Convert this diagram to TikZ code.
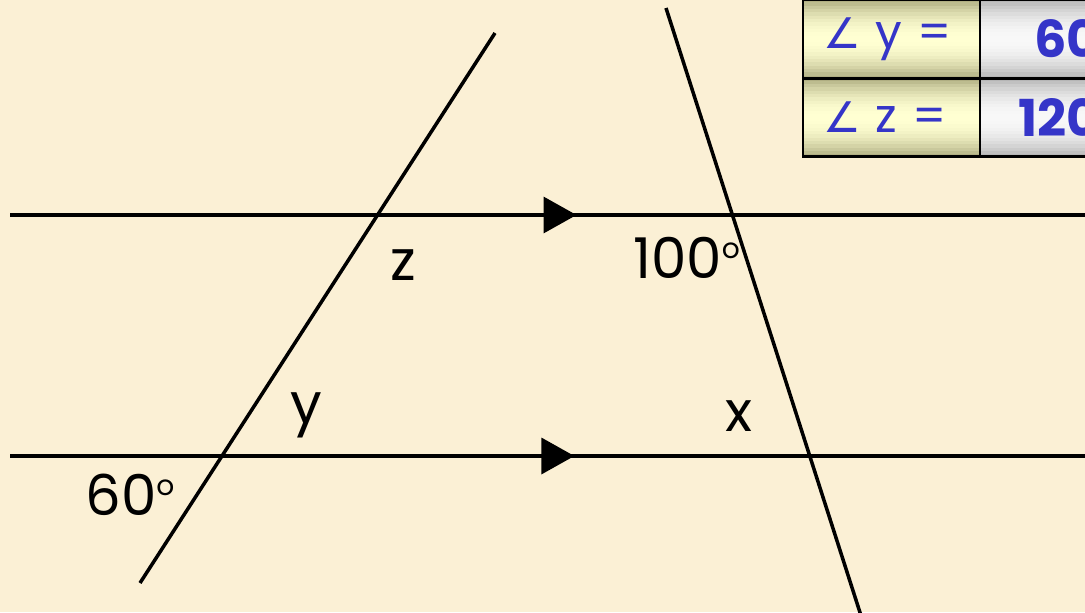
\documentclass[tikz,border=0pt]{standalone}
\usepackage{fontspec}
\setmainfont{Poppins}
\newfontfamily\symfont{DejaVu Sans}
\usepackage{xcolor}
\usetikzlibrary{arrows.meta, decorations.markings, calc, backgrounds}
\definecolor{paper}{HTML}{FBF0D5}
\definecolor{inkblue}{HTML}{3535C8}
\definecolor{olivedark}{HTML}{A9A77B}
\definecolor{olivelight}{HTML}{FFFFD2}
\definecolor{greydark}{HTML}{B0B0B0}
\definecolor{greylight}{HTML}{F8F8F8}
\newcommand{\degsup}{\raisebox{11pt}{\fontsize{16}{16}\selectfont o}}
\newcommand{\anglesym}{{\symfont\fontsize{24}{24}\selectfont∠}}

\begin{document}
\begin{tikzpicture}[
  x=0.02cm, y=-0.02cm,
  line/.style={line width=2pt},
  parallel/.style={line, postaction={decorate},
    decoration={markings, mark=at position #1 with {\arrow{Triangle[length=0.66cm,width=0.72cm]}}}},
  lbl/.style={inner sep=0pt, font=\fontsize{32}{36}\selectfont},
  cell/.style={draw, line width=1.2pt, rectangle, minimum height=1.56cm, inner xsep=0.4cm, text=inkblue},
  lcell/.style={cell, text width=2.74cm, align=left, font=\fontsize{27}{30}\selectfont},
  rcell/.style={cell, text width=2.0cm, align=right, font=\bfseries\fontsize{29}{32}\selectfont}
]
\useasboundingbox (0,0) rectangle (1085,612);
\clip (0,0) rectangle (1085,612);

\coordinate (topw) at (10,215);
\coordinate (tope) at (1085,215);
\coordinate (botw) at (10,456);
\coordinate (bote) at (1085,456);
\coordinate (leftlo) at (140,583);
\coordinate (lefthi) at (495,33);
\coordinate (righthi) at (666,8);
\coordinate (rightlo) at (864,625);

\draw[parallel=0.527] (topw) -- (tope);
\draw[parallel=0.525] (botw) -- (bote);
\draw[line] (leftlo) -- (lefthi);
\draw[line] (righthi) -- (rightlo);

\node[lbl] (lblz) at (403,265) {z};
\node[lbl, anchor=base west] (lbl100) at (633,278) {100\degsup};
\node[lbl] (lbly) at (306,415) {y};
\node[lbl] (lblx) at (739,416) {x};
\node[lbl, anchor=base west] (lbl60) at (85,515) {60\degsup};

\node[lcell] (cellya) at (891.5,39) {\mbox{\anglesym\hspace{0.3cm}y\hspace{0.3cm}=}};
\node[lcell] (cellza) at (891.5,117.5) {\mbox{\anglesym\hspace{0.3cm}z\hspace{0.3cm}=}};
\node[rcell] (cellyb) at (1050,39) {60};
\node[rcell] (cellzb) at (1050,117.5) {120};

\begin{pgfonlayer}{background}
\fill[paper] (0,0) rectangle (1085,612);
\foreach \cellname/\dark/\light in {cellya/olivedark/olivelight, cellza/olivedark/olivelight,
    cellyb/greydark/greylight, cellzb/greydark/greylight}{
  \foreach \i in {0,...,23}{
    \pgfmathsetmacro\ta{\i/24}
    \pgfmathsetmacro\tb{min(1,(\i+1.4)/24)}
    \pgfmathsetmacro\p{100*(1-((\i+0.5)/12-1)*((\i+0.5)/12-1))}
    \fill[\light!\p!\dark] ($(\cellname.north west)!\ta!(\cellname.south west)$)
      rectangle ($(\cellname.north east)!\tb!(\cellname.south east)$);
  }
}
\end{pgfonlayer}
\end{tikzpicture}
\end{document}
